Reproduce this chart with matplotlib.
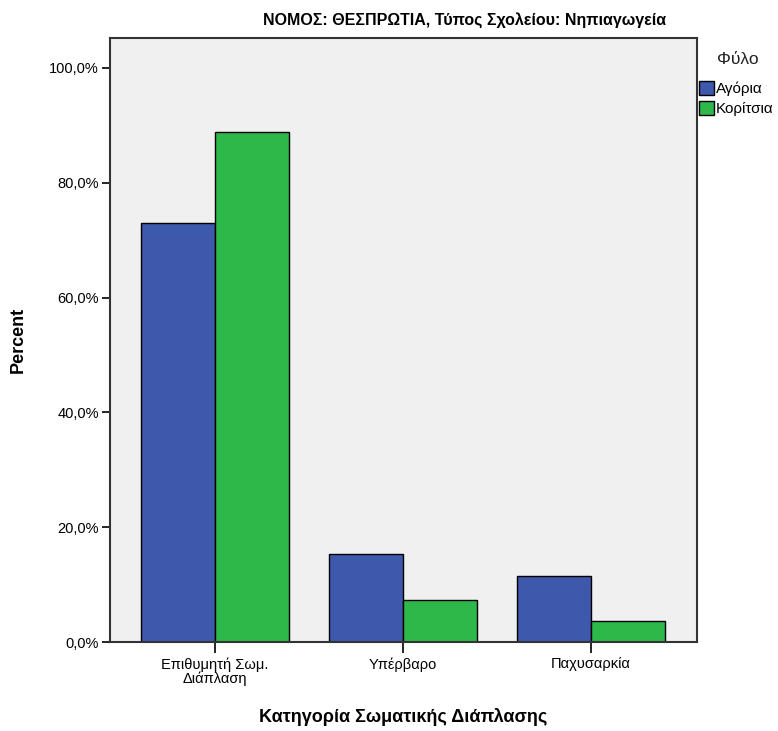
import numpy as np
import matplotlib
matplotlib.use('Agg')
import matplotlib.pyplot as plt
from matplotlib.patches import Patch
from matplotlib.ticker import FuncFormatter

plt.rcParams['font.family'] = ['Liberation Sans', 'DejaVu Sans']

# Data
categories = ['Επιθυμητή Σωμ.\nΔιάπλαση', 'Υπέρβαρο', 'Παχυσαρκία']
boys = [72.9, 15.3, 11.5]
girls = [88.9, 7.3, 3.7]
series_names = ['Αγόρια', 'Κορίτσια']
colors = ['#3e58ac', '#2fb84a']

fig = plt.figure(figsize=(7.78, 7.31), dpi=100)
ax = fig.add_axes([110 / 778, 1 - 642 / 731, 587 / 778, 604 / 731])
ax.set_facecolor('#f0f0f0')

x = np.arange(len(categories))
w = 0.394
ax.bar(x - w / 2, boys, w, color=colors[0], edgecolor='black', linewidth=1)
ax.bar(x + w / 2, girls, w, color=colors[1], edgecolor='black', linewidth=1)

ax.set_xlim(-0.559, 2.564)
ax.set_ylim(0, 105.2)
ax.set_yticks([0, 20, 40, 60, 80, 100])
ax.yaxis.set_major_formatter(FuncFormatter(lambda v, p: f'{v:.1f}%'.replace('.', ',')))
ax.set_xticks(x)
ax.set_xticklabels(categories, fontsize=10.5, linespacing=0.95)
ax.tick_params(axis='y', labelsize=10.5, length=6, width=1.2, pad=2)
ax.tick_params(axis='x', length=8, width=1.2, pad=3)
for s in ax.spines.values():
    s.set_color('#333333')
    s.set_linewidth(1.5)

ax.set_ylabel('Percent', fontsize=13, fontweight='bold', labelpad=16)
ax.set_xlabel('Κατηγορία Σωματικής Διάπλασης', fontsize=13, fontweight='bold', labelpad=16)

fig.text(465 / 778, 1 - 20 / 731, 'ΝΟΜΟΣ: ΘΕΣΠΡΩΤΙΑ, Τύπος Σχολείου: Νηπιαγωγεία',
         ha='center', va='center', fontsize=11.5, fontweight='bold')

# legend title drawn separately to get the wide gap above the entries
fig.text(738 / 778, 1 - 60 / 731, 'Φύλο', ha='center', va='center',
         fontsize=12.5, color='#222222')
handles = [Patch(facecolor=c, edgecolor='black', label=n) for c, n in zip(colors, series_names)]
leg = fig.legend(handles=handles, loc='upper left',
                 bbox_to_anchor=(694 / 778, 1 - 76 / 731), frameon=False,
                 fontsize=11, handlelength=1.0, handleheight=1.1,
                 handletextpad=0.15, labelspacing=0.3, borderpad=0.3, borderaxespad=0)

fig.savefig('out.png', dpi=100)
